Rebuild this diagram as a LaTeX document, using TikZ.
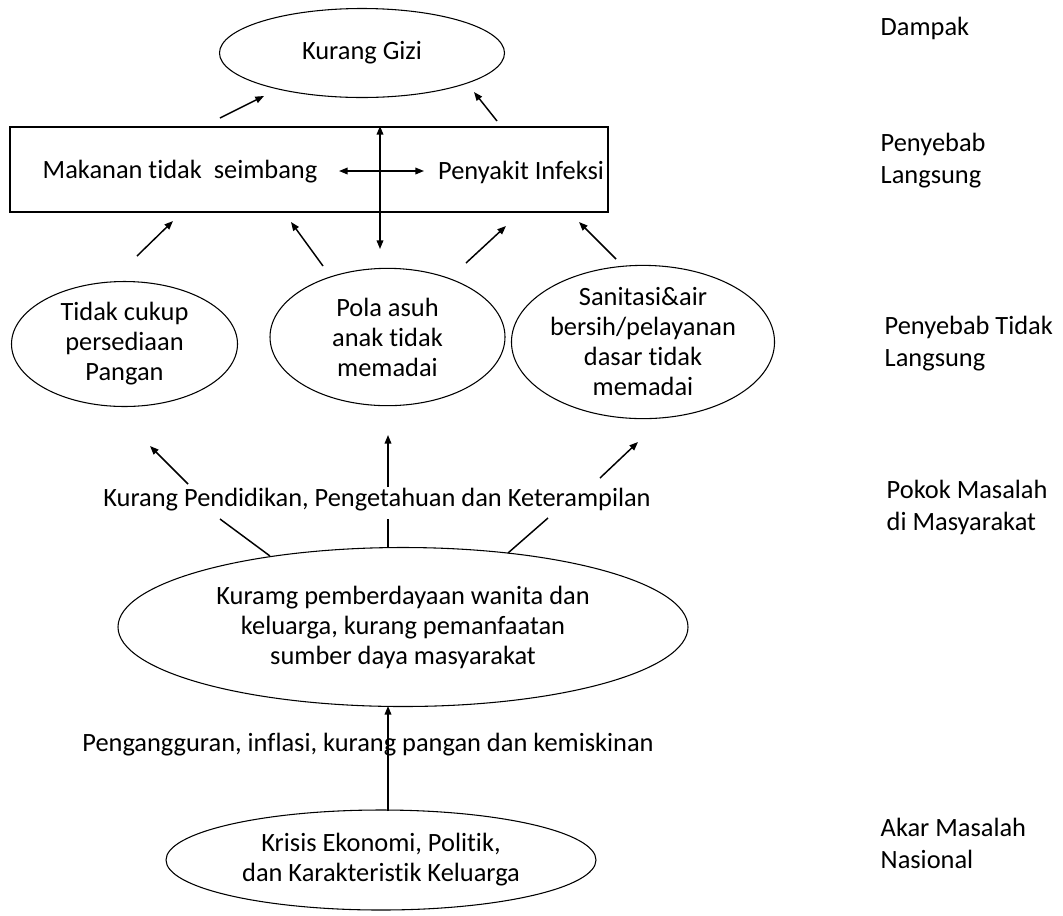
\documentclass[tikz,border=0pt]{standalone}
\usepackage{fontspec}
\setmainfont{Carlito}[Ligatures={NoCommon,NoRare}]
\usetikzlibrary{shapes.geometric,arrows.meta}

\begin{document}
\begin{tikzpicture}[x=0.75pt,y=0.75pt,yscale=-1,xscale=1,
  font=\fontsize{19.8}{22.5}\selectfont,
  oval/.style={draw, ellipse, inner sep=0pt, line width=0.8pt, align=center},
  lbl/.style={align=left, anchor=west, font=\fontsize{19.8}{24}\selectfont},
  pnl/.style={-{Triangle[length=6.5pt,width=5pt]}, line width=1.1pt},
  dua/.style={{Triangle[length=6.5pt,width=5pt]}-{Triangle[length=6.5pt,width=5pt]}, line width=1.1pt},
  garis/.style={line width=1.1pt}]
%set diagram size to the reference 1063 x 915
\path[use as bounding box] (0,0) rectangle (1063,915);

%Shape: Ellipse [id:gizi]
\node[oval, minimum width=213.75pt, minimum height=66.75pt] (gizi) at (362,53) {Kurang Gizi};
%Shape: Rectangle [id:langsung]
\node[draw, line width=0.8pt, minimum width=448.5pt, minimum height=63.75pt, inner sep=0pt] (langsung) at (309,169.5) {};
% Text Node
\node (makanan) at (180,172) {Makanan tidak~ seimbang};
% Text Node
\node (infeksi) at (521,172) {Penyakit Infeksi};

%Shape: Ellipse [id:pangan]
\node[oval, minimum width=169.5pt, minimum height=93.75pt] (pangan) at (124.5,344) {Tidak cukup\\persediaan\\Pangan};
%Shape: Ellipse [id:asuh]
\node[oval, minimum width=176.25pt, minimum height=103pt] (asuh) at (387.5,337) {Pola asuh\\anak tidak\\memadai};
%Shape: Ellipse [id:sanitasi]
\node[oval, minimum width=187.5pt, minimum height=96pt] (sanitasi) at (643,342) {Sanitasi\&air\\bersih/pelayanan\\dasar tidak\\memadai};

% Text Node
\node (pokok) at (377,500) {Kurang Pendidikan, Pengetahuan dan Keterampilan};
%Shape: Ellipse [id:wanita]
\node[oval, minimum width=427.5pt, minimum height=119.25pt] (wanita) at (403,627) {Kuramg pemberdayaan wanita dan\\keluarga, kurang pemanfaatan\\sumber daya masyarakat};
% Text Node
\node (ekonomi) at (368,745) {Pengangguran, inflasi, kurang pangan dan kemiskinan};
%Shape: Ellipse [id:krisis]
\node[oval, minimum width=322.5pt, minimum height=75pt] (krisis) at (381,860) {Krisis Ekonomi, Politik,\\dan Karakteristik Keluarga};

% Text Node (level labels)
\node[lbl] (dampak) at (876,28) {Dampak};
\node[lbl] (lvlLangsung) at (876,161) {Penyebab\\Langsung};
\node[lbl] (lvlTidak) at (880,344) {Penyebab Tidak\\Langsung};
\node[lbl] (lvlPokok) at (882,507) {Pokok Masalah\\di Masyarakat};
\node[lbl] (lvlAkar) at (876,843) {Akar Masalah\\Nasional};

%arrow ends
\coordinate (g1a) at (220,118);  \coordinate (g1b) at (264,96);
\coordinate (g2a) at (497,121);  \coordinate (g2b) at (474,92);
\coordinate (hA) at (339,171);   \coordinate (hB) at (424,171);
\coordinate (vA) at (380,126);   \coordinate (vB) at (380,249);
\coordinate (p1a) at (137,256);  \coordinate (p1b) at (173,221);
\coordinate (p2a) at (323,266);  \coordinate (p2b) at (291,222);
\coordinate (p3a) at (466,263);  \coordinate (p3b) at (506,226);
\coordinate (p4a) at (616,259);  \coordinate (p4b) at (579,222);
\coordinate (k1a) at (188,484);  \coordinate (k1b) at (150,446);
\coordinate (k2a) at (388,487);  \coordinate (k2b) at (388,435);
\coordinate (k3a) at (600,478);  \coordinate (k3b) at (638,442);
\coordinate (w1a) at (220,519);  \coordinate (w1b) at (270,556);
\coordinate (w2a) at (388,519);  \coordinate (w2b) at (388,548);
\coordinate (w3a) at (548,518);  \coordinate (w3b) at (508,553);
\coordinate (kr) at (388,811);   \coordinate (wb) at (388,706);

%Straight Lines
\draw[pnl] (g1a) -- (g1b);
\draw[pnl] (g2a) -- (g2b);
\draw[dua] (hA) -- (hB);
\draw[dua] (vA) -- (vB);
\draw[pnl] (p1a) -- (p1b);
\draw[pnl] (p2a) -- (p2b);
\draw[pnl] (p3a) -- (p3b);
\draw[pnl] (p4a) -- (p4b);
\draw[pnl] (k1a) -- (k1b);
\draw[pnl] (k2a) -- (k2b);
\draw[pnl] (k3a) -- (k3b);
\draw[garis] (w1a) -- (w1b);
\draw[garis] (w2a) -- (w2b);
\draw[garis] (w3a) -- (w3b);
\draw[pnl] (kr) -- (wb);

\end{tikzpicture}
\end{document}
